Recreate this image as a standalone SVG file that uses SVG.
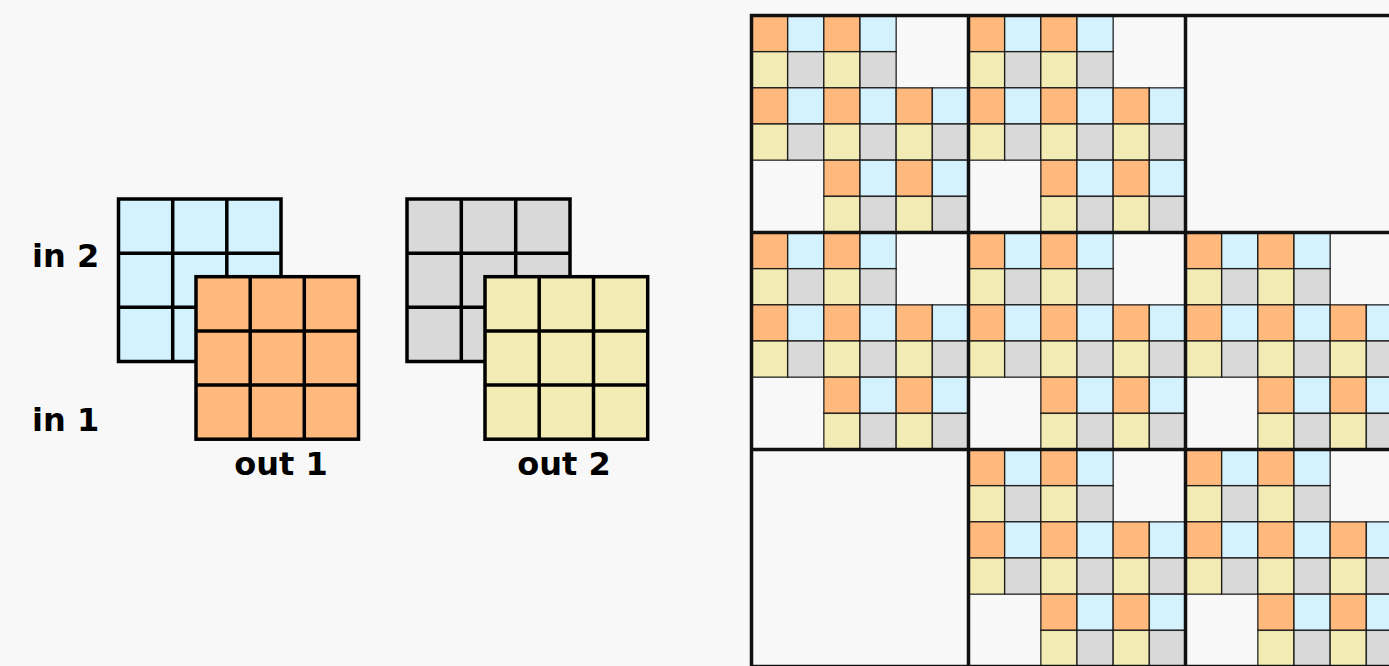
<svg xmlns="http://www.w3.org/2000/svg" xmlns:xlink="http://www.w3.org/1999/xlink" width="1389" height="666" viewBox="0 0 1389 666">
<style>
.bg{fill:#f8f8f8}
.o{fill:#ffb97d}.b{fill:#d4f2fd}.y{fill:#f3ebb4}.g{fill:#d9d9d9}
.cell rect{stroke:#111;stroke-width:1.4;stroke-opacity:0.85}
.big{fill:none;stroke:#000;stroke-width:3.5}
.gl{stroke:#000;stroke-width:3.5}
.lbl{font-family:"DejaVu Sans","Liberation Sans",sans-serif;font-weight:bold;font-size:32px;fill:#000}
.frame{fill:none;stroke:#111;stroke-width:3.5}
</style>
<defs>
<g id="grp" class="cell">
<rect class="o" x="0" y="0" width="36.17" height="36.17"/>
<rect class="b" x="36.17" y="0" width="36.17" height="36.17"/>
<rect class="y" x="0" y="36.17" width="36.17" height="36.17"/>
<rect class="g" x="36.17" y="36.17" width="36.17" height="36.17"/>
</g>
<g id="blk">
<use xlink:href="#grp" x="0" y="0"/>
<use xlink:href="#grp" x="72.33" y="0"/>
<use xlink:href="#grp" x="0" y="72.33"/>
<use xlink:href="#grp" x="72.33" y="72.33"/>
<use xlink:href="#grp" x="144.67" y="72.33"/>
<use xlink:href="#grp" x="72.33" y="144.67"/>
<use xlink:href="#grp" x="144.67" y="144.67"/>
</g>
</defs>
<rect class="bg" x="0" y="0" width="1389" height="666"/>

<g id="in2">
<rect class="big" x="118.5" y="199" width="162.5" height="162.5" style="fill:#d4f2fd"/>
<line class="gl" x1="172.7" y1="199" x2="172.7" y2="361.5"/>
<line class="gl" x1="226.8" y1="199" x2="226.8" y2="361.5"/>
<line class="gl" x1="118.5" y1="253.2" x2="281" y2="253.2"/>
<line class="gl" x1="118.5" y1="307.3" x2="281" y2="307.3"/>
</g>
<g id="out1">
<rect class="big" x="196" y="276.7" width="162.5" height="162.5" style="fill:#ffb97d"/>
<line class="gl" x1="250.2" y1="276.7" x2="250.2" y2="439.2"/>
<line class="gl" x1="304.3" y1="276.7" x2="304.3" y2="439.2"/>
<line class="gl" x1="196" y1="330.9" x2="358.5" y2="330.9"/>
<line class="gl" x1="196" y1="385" x2="358.5" y2="385"/>
</g>
<g id="in2b">
<rect class="big" x="407" y="199" width="163" height="162.5" style="fill:#d9d9d9"/>
<line class="gl" x1="461.3" y1="199" x2="461.3" y2="361.5"/>
<line class="gl" x1="515.7" y1="199" x2="515.7" y2="361.5"/>
<line class="gl" x1="407" y1="253.2" x2="570" y2="253.2"/>
<line class="gl" x1="407" y1="307.3" x2="570" y2="307.3"/>
</g>
<g id="out2">
<rect class="big" x="485" y="276.7" width="162.7" height="162.5" style="fill:#f3ebb4"/>
<line class="gl" x1="539.2" y1="276.7" x2="539.2" y2="439.2"/>
<line class="gl" x1="593.5" y1="276.7" x2="593.5" y2="439.2"/>
<line class="gl" x1="485" y1="330.9" x2="647.7" y2="330.9"/>
<line class="gl" x1="485" y1="385" x2="647.7" y2="385"/>
</g>

<g id="labels">
<text class="lbl" x="32" y="267">in 2</text>
<text class="lbl" x="32" y="431">in 1</text>
<text class="lbl" x="281" y="475" text-anchor="middle">out 1</text>
<text class="lbl" x="564" y="475" text-anchor="middle">out 2</text>
</g>

<g id="matrix">
<use xlink:href="#blk" x="751.5" y="15.5"/>
<use xlink:href="#blk" x="968.5" y="15.5"/>
<use xlink:href="#blk" x="751.5" y="232.5"/>
<use xlink:href="#blk" x="968.5" y="232.5"/>
<use xlink:href="#blk" x="1185.5" y="232.5"/>
<use xlink:href="#blk" x="968.5" y="449.5"/>
<use xlink:href="#blk" x="1185.5" y="449.5"/>
<g class="frame">
<rect x="751.5" y="15.5" width="651" height="651"/>
<line x1="968.5" y1="15.5" x2="968.5" y2="666.5"/>
<line x1="1185.5" y1="15.5" x2="1185.5" y2="666.5"/>
<line x1="751.5" y1="232.5" x2="1402.5" y2="232.5"/>
<line x1="751.5" y1="449.5" x2="1402.5" y2="449.5"/>
</g>
</g>
</svg>
